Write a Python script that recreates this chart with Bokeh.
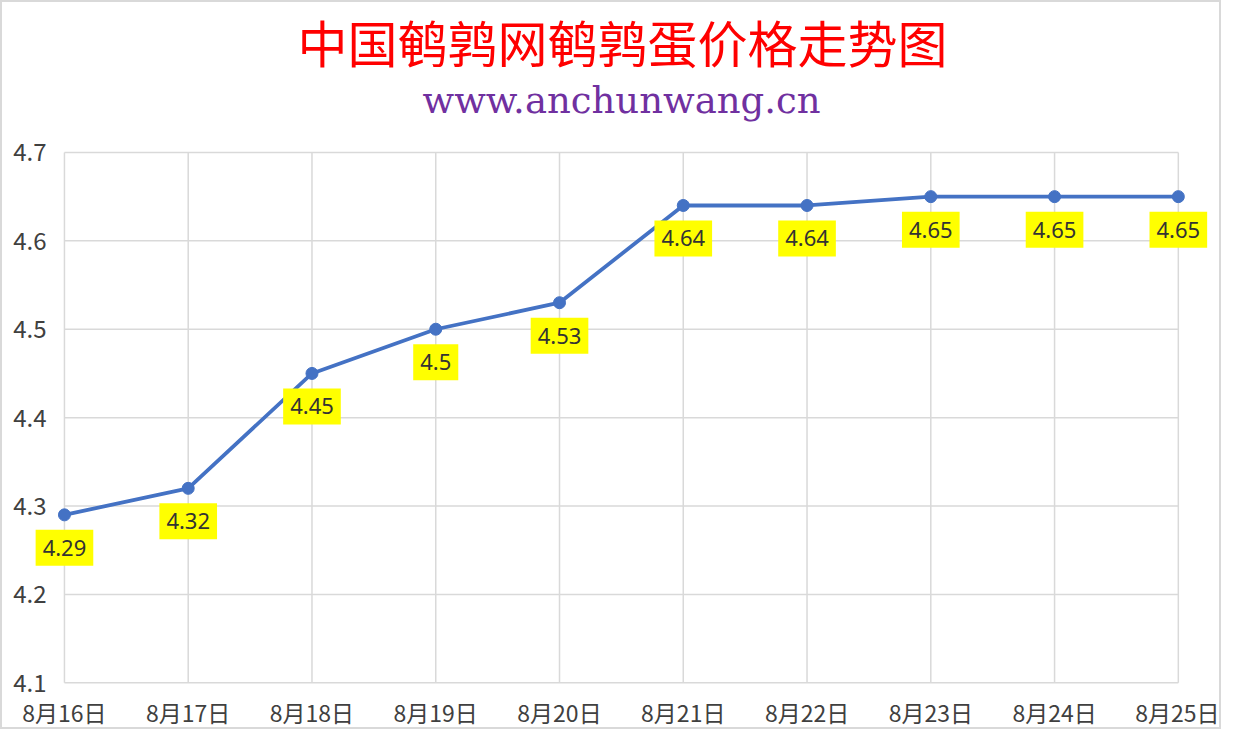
from bokeh.plotting import figure
from bokeh.models import FixedTicker, Title, ColumnDataSource, Range1d
from bokeh.core.properties import value
from bokeh.embed import file_html
from bokeh.resources import INLINE

dates = ["8月16日", "8月17日", "8月18日", "8月19日", "8月20日",
         "8月21日", "8月22日", "8月23日", "8月24日", "8月25日"]
prices = [4.29, 4.32, 4.45, 4.5, 4.53, 4.64, 4.64, 4.65, 4.65, 4.65]
y_ticks = [4.1, 4.2, 4.3, 4.4, 4.5, 4.6, 4.7]
y_tick_labels = ["4.1", "4.2", "4.3", "4.4", "4.5", "4.6", "4.7"]
title_text = "中国鹌鹑网鹌鹑蛋价格走势图"
subtitle_text = "www.anchunwang.cn"

xs = list(range(len(dates)))
n, m = len(xs), len(y_ticks)
src = ColumnDataSource(dict(x=xs, y=prices, label=[str(v) for v in prices]))

p = figure(width=1221, height=729, output_backend="svg", toolbar_location=None,
           x_range=Range1d(xs[0] - 0.444, xs[-1] + 0.26),
           y_range=Range1d(y_ticks[0] - 0.02, y_ticks[-1] + 0.035),
           y_axis_location=None,
           min_border_left=7, min_border_right=13, min_border_bottom=31,
           min_border_top=8)
p.styles = {"border": "2px solid #d9d9d9", "box-sizing": "border-box"}

p.add_layout(Title(text=subtitle_text, align="left", offset=413,
                   text_font="DejaVu Serif",
                   text_font_size="37px", text_font_style="normal",
                   text_color="#7030A0", standoff=0), "above")
p.add_layout(Title(text=title_text, align="left", offset=288,
                   text_font="Noto Sans CJK SC",
                   text_font_size="50px", text_font_style="normal",
                   text_color="#FF0000", standoff=0), "above")

p.outline_line_color = None
p.grid.visible = False
p.xaxis.ticker = FixedTicker(ticks=xs)
p.xaxis.major_label_overrides = {i: d for i, d in enumerate(dates)}
p.xaxis.axis_line_color = None
p.xaxis.major_tick_line_color = None
p.xaxis.minor_tick_line_color = None
p.xaxis.major_tick_out = 0
p.xaxis.major_tick_in = 0
p.xaxis.major_label_text_color = "#404040"
p.xaxis.major_label_text_font = "Noto Sans CJK SC"
p.xaxis.major_label_text_font_size = "23px"
p.xaxis.major_label_standoff = -6

# gridlines spanning exactly the data extent
p.segment(x0=xs, y0=[y_ticks[0]] * n, x1=xs, y1=[y_ticks[-1]] * n,
          line_color="#D9D9D9", line_width=1.5)
p.segment(x0=[xs[0]] * m, y0=y_ticks, x1=[xs[-1]] * m, y1=y_ticks,
          line_color="#D9D9D9", line_width=1.5)

# y tick labels
p.text(x=[xs[0]] * m, y=y_ticks, text=y_tick_labels, x_offset=-18,
       text_align="right", text_baseline="middle",
       text_font=value("Noto Sans CJK SC"), text_font_size="24px",
       text_color="#404040")

p.line("x", "y", source=src, line_color="#4472C4", line_width=3.8)
p.scatter("x", "y", source=src, size=12, fill_color="#4472C4", line_color="#4472C4")
p.text("x", "y", text="label", source=src, y_offset=33, text_align="center",
       text_baseline="middle", text_font=value("Noto Sans"), text_font_size="22px",
       text_color="#333333", background_fill_color="#FFFF00",
       padding=dict(left=7, right=7, top=10, bottom=10))

open("out.html", "w").write(file_html(p, INLINE))
